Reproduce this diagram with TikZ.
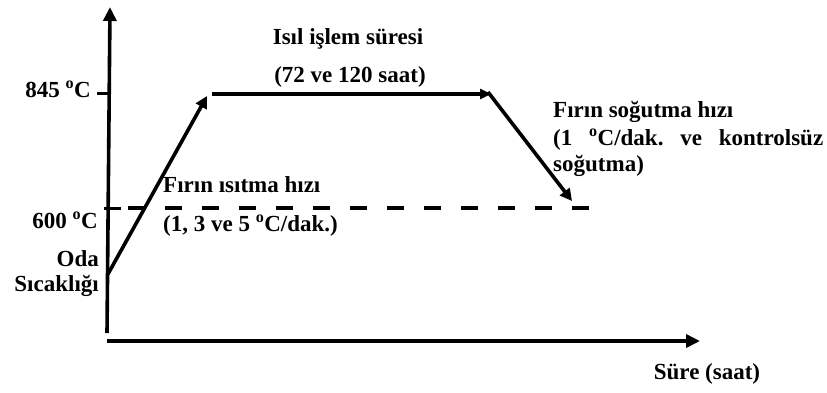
\documentclass[tikz,border=0pt]{standalone}
\usepackage{fontspec}
\setmainfont{Liberation Serif}
\usetikzlibrary{arrows.meta,positioning}
\definecolor{hpInk}{HTML}{000000}
\newcommand{\degC}{\textsuperscript{o}C}
\frenchspacing
\tikzset{
 heat/.style={font=\fontsize{23}{27}\selectfont\bfseries,line cap=butt,text=hpInk},
 axisline/.style={draw=hpInk,line width=3.6pt,-{Triangle[length=14pt,width=13pt]}},
 ramp/.style={draw=hpInk,line width=3.6pt,-{Triangle[length=12pt,width=12pt]}},
 hold/.style={draw=hpInk,line width=4pt,-{Triangle[length=11pt,width=10pt]}},
 tickline/.style={draw=hpInk,line width=3pt},
 level/.style={draw=hpInk,line width=3.2pt,dash pattern=on 17pt off 20pt},
 lbl/.style={inner sep=0pt,align=left},
 lblR/.style={inner sep=0pt,align=right,anchor=east}
}

\begin{document}
\begin{tikzpicture}[heat,x=1pt,y=-1pt]
 \useasboundingbox (0,0) rectangle (827,392);
 % axes
 \coordinate (yb) at (107,333); \coordinate (yt) at (110,7);
 \coordinate (xl) at (107,341); \coordinate (xr) at (700,341);
 \draw[axisline] (yb)--(yt);
 \draw[axisline] (xl)--(xr);
 % ticks and 600 level
 \coordinate (t8a) at (97,93); \coordinate (t8b) at (109,93);
 \coordinate (t6a) at (104,208); \coordinate (t6b) at (121,208);
 \coordinate (l6a) at (128,208); \coordinate (l6b) at (589,208);
 \draw[tickline] (t8a)--(t8b); \draw[tickline] (t6a)--(t6b);
 \draw[level] (l6a)--(l6b);
 % cycle
 \coordinate (rt) at (108,274); \coordinate (h1) at (207,96);
 \coordinate (p0) at (212,94); \coordinate (p1) at (491,94);
 \coordinate (c0) at (488,92); \coordinate (c1) at (572,201);
 \draw[ramp] (rt)--(h1);
 \draw[hold] (p0)--(p1);
 \draw[ramp] (c0)--(c1);
 % labels
 \node[lblR] (t845) at (91,89) {845 \degC};
 \node[lblR] (t600) at (98,220) {600 \degC};
 \node[lblR,align=right] (room) at (99,274) {Oda\\[-2pt]Sıcaklığı};
 \node[lbl] (holdA) at (348,39) {Isıl işlem süresi};
 \node[lbl] (holdB) at (350,77) {(72 ve 120 saat)};
 \node[lbl,anchor=west] (rampA) at (163,185) {Fırın ısıtma hızı};
 \node[lbl,anchor=west] (rampB) at (163,226) {(1, 3 ve 5 \degC/dak.)};
 \node[lbl,anchor=west] (coolA) at (553,112) {Fırın soğutma hızı};
 \node[lbl,anchor=west] (coolB) at (553,140) {\makebox[270pt][s]{(1 \degC/dak. ve kontrolsüz}};
 \node[lbl,anchor=west] (coolC) at (553,166) {soğutma)};
 \node[lbl] (tlbl) at (707,374) {Süre (saat)};
\end{tikzpicture}
\end{document}
